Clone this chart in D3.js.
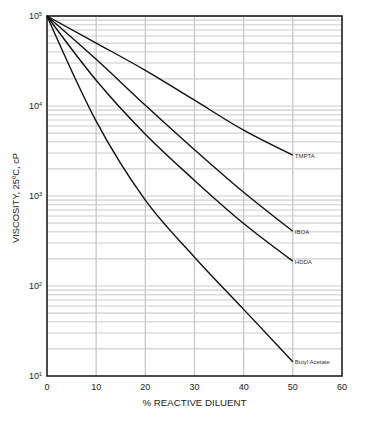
<!DOCTYPE html>
<html>
<head>
<meta charset="utf-8">
<script src="https://cdn.jsdelivr.net/npm/d3@7"></script>
<style>
body { margin: 0; background: #fff; }
text { font-family: "Liberation Sans", Arial, sans-serif; }
</style>
</head>
<body>
<div id="chart"></div>
<script>
// data (viscosity in cP at % diluent)
var diluent = [0, 10, 20, 30, 40, 50];
var tmpta = [100000, 50100, 24900, 11600, 5380, 2840];
var iboa = [100000, 33000, 10200, 3270, 1100, 406];
var hdda = [100000, 19300, 4850, 1490, 494, 189];
var butylAcetate = [100000, 6780, 898, 209, 55, 14.4];
var seriesNames = ["TMPTA", "IBOA", "HDDA", "Butyl Acetate"];
var xTicks = [0, 10, 20, 30, 40, 50, 60];
var yExponents = [1, 2, 3, 4, 5];

var margin = {top: 16, right: 30, bottom: 48, left: 47},
  width = 372 - margin.left - margin.right,
  height = 424 - margin.top - margin.bottom;

var svg = d3.select("#chart")
  .append("svg")
  .attr("width", 372)
  .attr("height", 424)
  .append("g")
  .attr("transform", "translate(" + margin.left + "," + margin.top + ")");

var x = d3.scaleLinear().domain([0, 60]).range([0, width]);
var y = d3.scaleLog().domain([10, 100000]).range([height, 0]);

// horizontal grid at 2..10 of each decade
var yGrid = [];
yExponents.slice(0, 4).forEach(function (e) {
  for (var k = 2; k <= 10; k++) yGrid.push(k * Math.pow(10, e));
});
svg.append("g")
  .selectAll("line")
  .data(yGrid)
  .enter()
  .append("line")
  .attr("x1", 0)
  .attr("x2", width)
  .attr("y1", function (d) { return y(d); })
  .attr("y2", function (d) { return y(d); })
  .attr("stroke", "#dcdcdc")
  .attr("stroke-width", 1.6);

// vertical grid
svg.append("g")
  .selectAll("line")
  .data(xTicks.slice(1, 6))
  .enter()
  .append("line")
  .attr("x1", function (d) { return x(d); })
  .attr("x2", function (d) { return x(d); })
  .attr("y1", 0)
  .attr("y2", height)
  .attr("stroke", "#c8c8c8")
  .attr("stroke-width", 1.3);

// frame
svg.append("rect")
  .attr("width", width)
  .attr("height", height)
  .attr("fill", "none")
  .attr("stroke", "#111")
  .attr("stroke-width", 1.5);

// x tick labels
svg.append("g")
  .selectAll("text")
  .data(xTicks)
  .enter()
  .append("text")
  .attr("x", function (d) { return x(d); })
  .attr("y", height + 14)
  .attr("text-anchor", "middle")
  .attr("font-size", 9)
  .attr("fill", "#222")
  .text(function (d) { return d; });

// y tick labels, 10 with superscript
var yl = svg.append("g")
  .selectAll("text")
  .data(yExponents)
  .enter()
  .append("text")
  .attr("x", -5)
  .attr("y", function (d) { return y(Math.pow(10, d)) + 3; })
  .attr("text-anchor", "end")
  .attr("font-size", 9)
  .attr("fill", "#222");
yl.append("tspan").text("10");
yl.append("tspan")
  .attr("font-size", 5.5)
  .attr("dy", -3.5)
  .text(function (d) { return d; });

// axis titles
svg.append("text")
  .attr("x", width / 2)
  .attr("y", height + 30)
  .attr("text-anchor", "middle")
  .attr("font-size", 9.7)
  .attr("fill", "#222")
  .text("% REACTIVE DILUENT");

svg.append("text")
  .attr("transform", "translate(" + (-28) + "," + (height / 2 + 2) + ") rotate(-90)")
  .attr("text-anchor", "middle")
  .attr("font-size", 9.3)
  .attr("fill", "#222")
  .text("VISCOSITY, 25ºC, cP");

// the curves
var allSeries = [tmpta, iboa, hdda, butylAcetate].map(function (vals, i) {
  return {
    name: seriesNames[i],
    points: vals.map(function (v, j) { return {p: diluent[j], v: v}; })
  };
});

var line = d3.line()
  .x(function (d) { return x(d.p); })
  .y(function (d) { return y(d.v); })
  .curve(d3.curveMonotoneX);

svg.append("g")
  .selectAll("path")
  .data(allSeries)
  .enter()
  .append("path")
  .attr("fill", "none")
  .attr("stroke", "#111")
  .attr("stroke-width", 1.4)
  .attr("d", function (d) { return line(d.points); });

// end labels
svg.append("g")
  .selectAll("text")
  .data(allSeries)
  .enter()
  .append("text")
  .attr("x", function (d) { return x(50) + 2; })
  .attr("y", function (d) { return y(d.points[d.points.length - 1].v) + 2.5; })
  .attr("font-size", 6)
  .attr("fill", "#333")
  .text(function (d) { return d.name; });
</script>
</body>
</html>
